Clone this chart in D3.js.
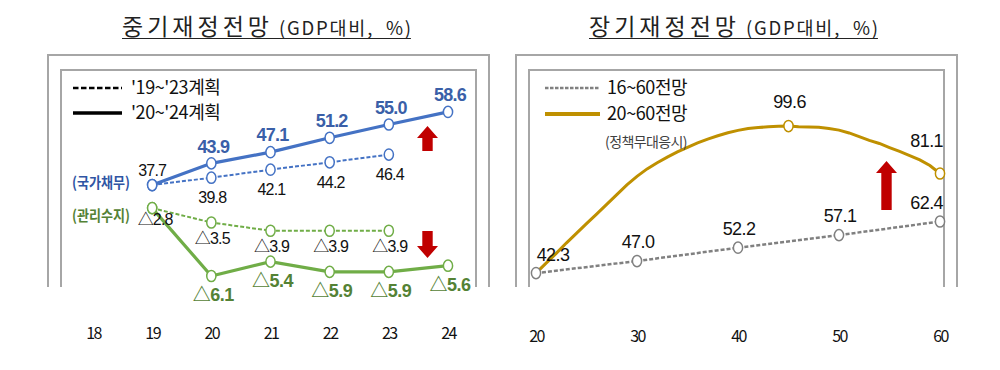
<!DOCTYPE html>
<html><head><meta charset="utf-8">
<script src="https://cdn.jsdelivr.net/npm/d3@7"></script>
<style>
html,body{margin:0;padding:0;background:#fff;}
svg{display:block;}
text{font-family:"Noto Sans CJK KR","Liberation Sans",sans-serif;}
.num{font-family:"Liberation Sans","Noto Sans CJK KR",sans-serif;}
</style></head>
<body>
<svg id="chart" width="1000" height="370"></svg>
<script>
// ---------- data ----------
const midTicks = [18, 19, 20, 21, 22, 23, 24];
const newYears = [19, 20, 21, 22, 23, 24];
const oldYears = [19, 20, 21, 22, 23];
const debtNew = [37.7, 43.9, 47.1, 51.2, 55.0, 58.6];
const debtOld = [37.7, 39.8, 42.1, 44.2, 46.4];
const balNew = [-2.8, -6.1, -5.4, -5.9, -5.9, -5.6];
const balOld = [-2.8, -3.5, -3.9, -3.9, -3.9];
const midLegend = ["'19~'23계획", "'20~'24계획"];
const midSeriesNames = ["(국가채무)", "(관리수지)"];

const longTicks = [20, 30, 40, 50, 60];
const long16Years = [20, 30, 40, 50, 60];
const long16 = [42.3, 47.0, 52.2, 57.1, 62.4];
const long20Years = [20,21,22,23,24,25,26,27,28,29,30,31,32,33,34,35,36,37,38,39,40,
                     41,42,43,44,45,46,47,48,49,50,51,52,53,54,55,56,57,58,59,60];
const long20 = [42.3,46.2,50.0,54.0,57.8,61.6,65.3,69.1,72.9,76.7,80.0,
                82.9,85.3,87.5,89.5,91.3,93.0,94.5,95.8,97.0,97.9,
                98.6,99.0,99.3,99.5,99.6,99.3,99.2,99.1,98.6,98.0,
                96.9,95.5,94.0,92.8,91.2,89.7,88.1,86.4,84.2,81.1];
const long20Labeled = [45, 60];
const longLegend = ["16~60전망", "20~60전망"];
const longNote = "(정책무대응시)";
const titles = ["중기재정전망", "장기재정전망"];
const titleUnit = " (GDP대비,  %)";

// ---------- setup ----------
const svg = d3.select("#chart");
const BLUE = "#4472C4", BLUE_T = "#3A5FA8", GREEN = "#70AD47", GREEN_T = "#548235";
const GRAY = "#808080", GOLD = "#BF9000", RED = "#C00000", FRAME = "#A6A6A6";
const fmt = d => d.toFixed(1);
const fmtBal = d => "△" + Math.abs(d).toFixed(1);

function title(x0, txt) {
  const t = svg.append("text").attr("x", x0).attr("y", 35).attr("fill", "#222")
    .attr("xml:space", "preserve").style("white-space", "pre");
  t.append("tspan").attr("font-size", 23).attr("letter-spacing", 4).text(txt);
  t.append("tspan").attr("font-size", 18.5).attr("letter-spacing", 1.8).text(titleUnit);
  const bb = t.node().getBBox();
  svg.append("line").attr("x1", bb.x).attr("x2", bb.x + bb.width - 2).attr("y1", 38.5).attr("y2", 38.5)
     .attr("stroke", "#222").attr("stroke-width", 1.2);
}
function frame(x0, x1, y0) {
  svg.append("path").attr("d", `M${x0},287V${y0}H${x1}V287`).attr("fill", "none")
     .attr("stroke", FRAME).attr("stroke-width", 2);
}
function marker(g, x, y, color) {
  g.append("ellipse").attr("cx", x).attr("cy", y).attr("rx", 4.6).attr("ry", 5.6)
   .attr("fill", "#fff").attr("stroke", color).attr("stroke-width", 1.5);
}
function arrowUp(x, top, bottom) {
  svg.append("path").attr("fill", RED)
    .attr("d", `M${x},${top}L${x+10.5},${top+12}H${x+5.2}V${bottom}H${x-5.2}V${top+12}H${x-10.5}Z`);
}
function arrowDown(x, top, bottom) {
  svg.append("path").attr("fill", RED)
    .attr("d", `M${x},${bottom}L${x+10.5},${bottom-12}H${x+5.2}V${top}H${x-5.2}V${bottom-12}H${x-10.5}Z`);
}

// ---------- left panel ----------
title(122, titles[0]);
frame(48, 489, 55);
frame(61, 476, 70);

const xM = d3.scaleLinear().domain([18, 24]).range([93, 448]);
const yDebt = d3.scaleLinear().domain([30, 60]).range([212, 107]);
const yBal = d3.scaleLinear().domain([-7, 0]).range([294.5, 150.5]);

const gL = svg.append("g");
const lineOf = (xs, ys, xsc, ysc) => d3.line().x((d, i) => xsc(xs[i])).y(d => ysc(d))(ys);

gL.append("path").attr("d", lineOf(oldYears, debtOld, xM, yDebt)).attr("fill", "none")
  .attr("stroke", BLUE).attr("stroke-width", 2).attr("stroke-dasharray", "4,2");
gL.append("path").attr("d", lineOf(newYears, debtNew, xM, yDebt)).attr("fill", "none")
  .attr("stroke", BLUE).attr("stroke-width", 3.2);
gL.append("path").attr("d", lineOf(oldYears, balOld, xM, yBal)).attr("fill", "none")
  .attr("stroke", GREEN).attr("stroke-width", 2).attr("stroke-dasharray", "4,2");
gL.append("path").attr("d", lineOf(newYears, balNew, xM, yBal)).attr("fill", "none")
  .attr("stroke", GREEN).attr("stroke-width", 3.2);

debtOld.forEach((d, i) => marker(gL, xM(oldYears[i]), yDebt(d), BLUE));
debtNew.forEach((d, i) => marker(gL, xM(newYears[i]), yDebt(d), BLUE));
balOld.forEach((d, i) => marker(gL, xM(oldYears[i]), yBal(d), GREEN));
balNew.forEach((d, i) => marker(gL, xM(newYears[i]), yBal(d), GREEN));

debtNew.forEach((d, i) => {
  const t = gL.append("text").attr("class", "num").attr("text-anchor", "middle")
    .attr("x", xM(newYears[i]) + (i === 0 ? 0 : 2)).attr("dy", "0.35em").attr("letter-spacing", -0.8);
  if (i === 0) t.attr("y", yDebt(d) - 15).attr("font-size", 16).attr("fill", "#111").text(fmt(d));
  else t.attr("y", yDebt(d) - 17).attr("font-size", 18).attr("font-weight", "bold").attr("fill", BLUE_T).text(fmt(d));
});
debtOld.forEach((d, i) => {
  if (i === 0) return;
  gL.append("text").attr("class", "num").attr("text-anchor", "middle")
    .attr("x", xM(oldYears[i]) + 1).attr("y", yDebt(d) + 20).attr("dy", "0.35em")
    .attr("font-size", 16).attr("letter-spacing", -0.8).attr("fill", "#111").text(fmt(d));
});
balOld.forEach((d, i) => {
  gL.append("text").attr("class", "num").attr("text-anchor", "middle")
    .attr("x", xM(oldYears[i]) + (i === 0 ? 3 : 1)).attr("y", yBal(d) + (i === 0 ? 11 : 16)).attr("dy", "0.35em")
    .attr("font-size", 16).attr("letter-spacing", -0.8).attr("fill", "#111").text(fmtBal(d));
});
balNew.forEach((d, i) => {
  if (i === 0) return;
  gL.append("text").attr("class", "num").attr("text-anchor", "middle")
    .attr("x", xM(newYears[i]) + 2).attr("y", yBal(d) + 19).attr("dy", "0.35em")
    .attr("font-size", 18).attr("font-weight", "bold").attr("letter-spacing", -0.5).attr("fill", GREEN_T).text(fmtBal(d));
});

gL.append("text").attr("x", 101).attr("y", 183).attr("dy", "0.35em").attr("text-anchor", "middle")
  .attr("font-size", 15).attr("font-weight", "bold").attr("fill", "#2F55A4")
  .attr("textLength", 58).attr("lengthAdjust", "spacingAndGlyphs").text(midSeriesNames[0]);
gL.append("text").attr("x", 101).attr("y", 216).attr("dy", "0.35em").attr("text-anchor", "middle")
  .attr("font-size", 15).attr("font-weight", "bold").attr("fill", GREEN_T)
  .attr("textLength", 58).attr("lengthAdjust", "spacingAndGlyphs").text(midSeriesNames[1]);

[0, 1].forEach(i => {
  const y = 88 + i * 25;
  gL.append("line").attr("x1", 73).attr("x2", 122).attr("y1", y).attr("y2", y)
    .attr("stroke", "#000").attr("stroke-width", i ? 3.5 : 2.5).attr("stroke-dasharray", i ? null : "5.5,2.5");
  gL.append("text").attr("x", 131).attr("y", y).attr("dy", "0.35em").attr("font-size", 18)
    .attr("letter-spacing", -0.4).attr("fill", "#111").text(midLegend[i]);
});

arrowUp(427.5, 126, 151);
arrowDown(427.5, 231, 258);

const axL = svg.append("g").attr("transform", "translate(0,325)")
  .call(d3.axisBottom(xM).tickValues(midTicks).tickFormat(d => String(d)).tickSize(0));
axL.select(".domain").remove();
axL.selectAll("text").attr("font-size", 16).attr("letter-spacing", -1.5).attr("fill", "#111")
  .attr("font-family", "Liberation Sans, sans-serif");

// ---------- right panel ----------
title(589, titles[1]);
frame(516, 957, 55);
frame(529, 944, 70);

const xL = d3.scaleLinear().domain([20, 60]).range([536, 940]);
const yL = d3.scaleLinear().domain([40, 100]).range([279, 125]);
const gR = svg.append("g");

gR.append("path").attr("d", lineOf(long16Years, long16, xL, yL)).attr("fill", "none")
  .attr("stroke", GRAY).attr("stroke-width", 2.5).attr("stroke-dasharray", "4,2");
gR.append("path").attr("d", lineOf(long20Years, long20, xL, yL)).attr("fill", "none")
  .attr("stroke", GOLD).attr("stroke-width", 3);
long16.forEach((d, i) => marker(gR, xL(long16Years[i]), yL(d), GRAY));
long20Labeled.forEach(yr => {
  const i = long20Years.indexOf(yr);
  marker(gR, xL(yr), yL(long20[i]), GOLD);
});

long16.forEach((d, i) => {
  const x = xL(long16Years[i]);
  const t = gR.append("text").attr("class", "num").attr("y", yL(d) - 19).attr("dy", "0.35em")
    .attr("font-size", 18).attr("letter-spacing", -0.6).attr("fill", "#111").text(fmt(d));
  if (i === 0) t.attr("x", x + 17).attr("y", yL(d) - 18).attr("text-anchor", "middle");
  else if (i === long16.length - 1) t.attr("x", x + 3).attr("text-anchor", "end");
  else t.attr("x", x + 1).attr("text-anchor", "middle");
});
long20Labeled.forEach((yr, k) => {
  const i = long20Years.indexOf(yr);
  const t = gR.append("text").attr("class", "num").attr("dy", "0.35em")
    .attr("font-size", 18).attr("letter-spacing", -0.6).attr("fill", "#111").text(fmt(long20[i]));
  if (k === 0) t.attr("x", xL(yr) + 1).attr("y", yL(long20[i]) - 24).attr("text-anchor", "middle");
  else t.attr("x", xL(yr) + 3).attr("y", yL(long20[i]) - 33).attr("text-anchor", "end");
});

[0, 1].forEach(i => {
  const y = 88 + i * 26;
  gR.append("line").attr("x1", 545).attr("x2", 600).attr("y1", y).attr("y2", y)
    .attr("stroke", i ? GOLD : GRAY).attr("stroke-width", i ? 4 : 2.5).attr("stroke-dasharray", i ? null : "3.5,1.5");
  gR.append("text").attr("x", 607).attr("y", y).attr("dy", "0.35em").attr("font-size", 18)
    .attr("letter-spacing", -0.4).attr("fill", "#111").text(longLegend[i]);
});
gR.append("text").attr("x", 605).attr("y", 142).attr("dy", "0.35em").attr("font-size", 14)
  .attr("letter-spacing", -0.6).attr("fill", "#404040").text(longNote);

arrowUp(886.5, 161, 210);

const axR = svg.append("g").attr("transform", "translate(0,328)")
  .call(d3.axisBottom(xL).tickValues(longTicks).tickFormat(d => String(d)).tickSize(0));
axR.select(".domain").remove();
axR.selectAll("text").attr("font-size", 16).attr("letter-spacing", -1.5).attr("fill", "#111")
  .attr("font-family", "Liberation Sans, sans-serif");
</script>
</body></html>
